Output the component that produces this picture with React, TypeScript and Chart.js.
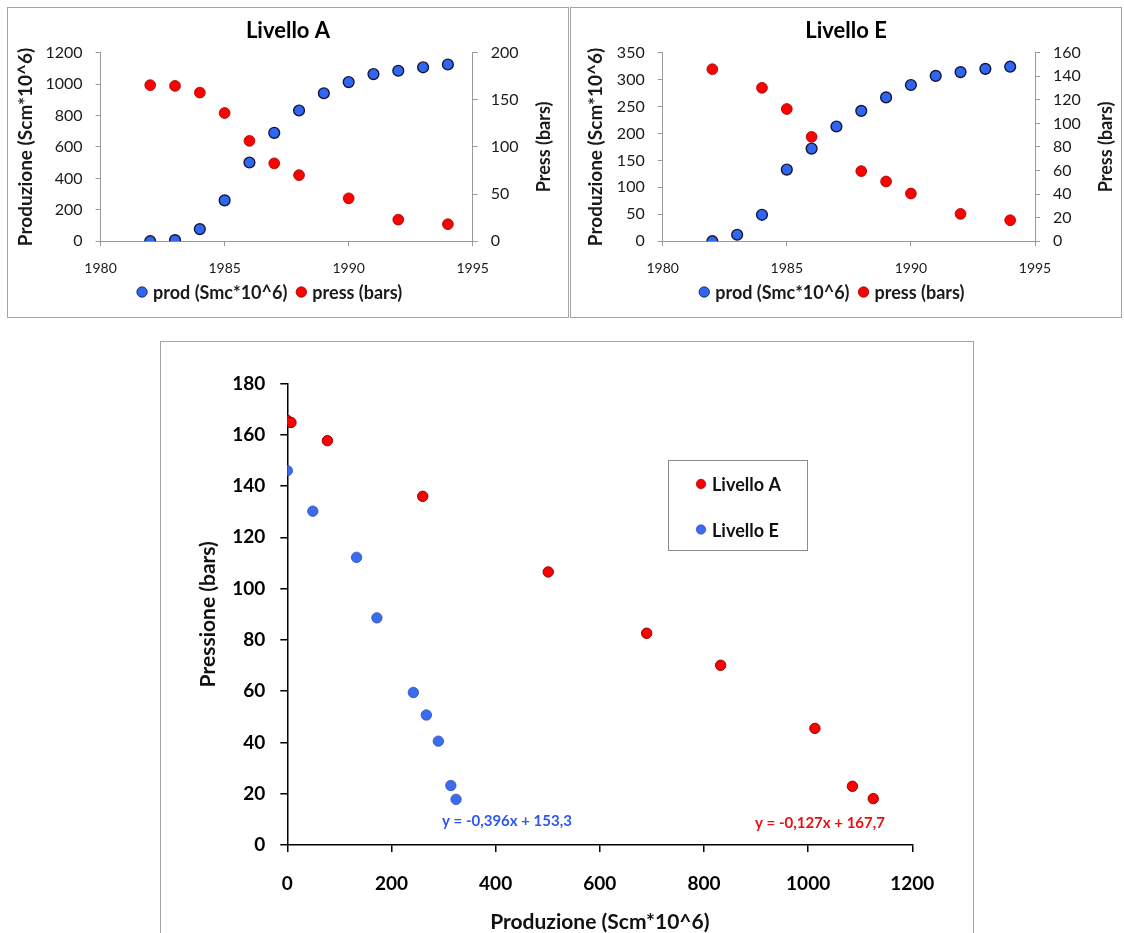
import React, { useEffect, useRef } from "react";
import { Chart, registerables } from "chart.js";

Chart.register(...registerables);

const FONT = "Lato, 'Open Sans', sans-serif";

// ---------- data ----------
const prodYears = [1982, 1983, 1984, 1985, 1986, 1987, 1988, 1989, 1990, 1991, 1992, 1993, 1994];
// Livello A
const prodA = [0, 7, 77, 260, 501, 690, 832, 942, 1013, 1064, 1085, 1107, 1125];
const pressYearsA = [1982, 1983, 1984, 1985, 1986, 1987, 1988, 1990, 1992, 1994];
const pressA = [165.6, 164.8, 157.7, 136.0, 106.5, 82.6, 70.1, 45.5, 22.9, 18.1];
// Livello E
const prodE = [0, 12, 49, 133, 172, 213, 242, 267, 290, 307, 314, 320, 324];
const pressYearsE = [1982, 1984, 1985, 1986, 1988, 1989, 1990, 1992, 1994];
const pressE = [146.0, 130.2, 112.2, 88.6, 59.5, 50.7, 40.5, 23.2, 17.8];

// axes: [min, max, step]
const yearAxis = [1980, 1995, 5];
const prodAxisA = [0, 1200, 200];
const pressAxisA = [0, 200, 50];
const prodAxisE = [0, 350, 50];
const pressAxisE = [0, 160, 20];
const crossProdAxis = [0, 1200, 200];
const crossPressAxis = [0, 180, 20];

const legendLabels = ["prod (Smc*10^6)", "press (bars)"];
const crossLabels = ["Livello A", "Livello E"];
const trendA = "y = -0,127x + 167,7";
const trendE = "y = -0,396x + 153,3";

// ---------- colours ----------
const BLUE = "#2f66f2";
const BLUE_EDGE = "#15163a";
const RED = "#ff0000";
const RED_EDGE = "#9a0000";
const GRAY = "#9a9a9a";
const TXT = "#1a1a1a";

const fmt = (v: any) => String(v);

function topConfig(p: any) {
  const topExtras = {
    id: "topExtras",
    afterDraw(chart: any) {
      const { ctx, chartArea } = chart;
      ctx.save();
      // right axis title (reads bottom-to-top)
      ctx.translate(chartArea.right + 71.5, (chartArea.top + chartArea.bottom) / 2);
      ctx.rotate(-Math.PI / 2);
      ctx.font = `bold 18px ${FONT}`;
      ctx.fillStyle = TXT;
      ctx.textAlign = "center";
      ctx.textBaseline = "middle";
      ctx.fillText("Press (bars)", 0, 0);
      ctx.restore();

      // legend
      ctx.save();
      ctx.font = `bold 18px ${FONT}`;
      const w1 = ctx.measureText(legendLabels[0]).width;
      const w2 = ctx.measureText(legendLabels[1]).width;
      const W = 41 + w1 + w2;
      const cx = (chartArea.left + chartArea.right) / 2 - 17;
      const y = 284;
      const x0 = cx - W / 2;
      const items = [
        { c: x0 + 5, t: x0 + 16, fill: BLUE, edge: BLUE_EDGE, label: legendLabels[0] },
        { c: x0 + 16 + w1 + 14, t: x0 + 16 + w1 + 25, fill: RED, edge: RED_EDGE, label: legendLabels[1] },
      ];
      items.forEach((it) => {
        ctx.beginPath();
        ctx.arc(it.c, y, 5.2, 0, Math.PI * 2);
        ctx.fillStyle = it.fill;
        ctx.fill();
        ctx.lineWidth = 0.8;
        ctx.strokeStyle = it.edge;
        ctx.stroke();
        ctx.fillStyle = TXT;
        ctx.textAlign = "left";
        ctx.textBaseline = "middle";
        ctx.fillText(it.label, it.t, y + 1);
      });
      ctx.restore();
    },
  };

  return {
    type: "scatter",
    data: {
      datasets: [
        {
          label: legendLabels[0],
          data: prodYears.map((yr, i) => ({ x: yr, y: p.prod[i] })),
          yAxisID: "y",
          backgroundColor: BLUE,
          borderColor: BLUE_EDGE,
          borderWidth: 1.4,
          pointRadius: 5.4,
        },
        {
          label: legendLabels[1],
          data: p.pressYears.map((yr: number, i: number) => ({ x: yr, y: p.press[i] })),
          yAxisID: "y2",
          backgroundColor: RED,
          borderColor: RED_EDGE,
          borderWidth: 0.8,
          pointRadius: 5.4,
        },
      ],
    },
    options: {
      animation: false,
      responsive: false,
      events: [],
      layout: { padding: { top: 0, bottom: 40, left: 0, right: 0 } },
      plugins: {
        legend: { display: false },
        tooltip: { enabled: false },
        title: {
          display: true,
          text: p.title,
          color: "#000",
          font: { family: FONT, size: 22, weight: "bold" },
          padding: { top: 9.8, bottom: 8.5 },
        },
      },
      scales: {
        x: {
          type: "linear",
          min: yearAxis[0],
          max: yearAxis[1],
          ticks: { stepSize: yearAxis[2], callback: fmt, color: TXT, font: { family: FONT, size: 14 }, padding: 14 },
          grid: { drawOnChartArea: false, drawTicks: true, tickLength: 5, color: GRAY },
          border: { color: GRAY },
          afterFit: (s: any) => {
            s.height = 35.8;
          },
        },
        y: {
          position: "left",
          min: p.prodAxis[0],
          max: p.prodAxis[1],
          ticks: { stepSize: p.prodAxis[2], callback: fmt, color: TXT, font: { family: FONT, size: 16 }, padding: 13 },
          grid: { drawOnChartArea: false, drawTicks: true, tickLength: 5, color: GRAY },
          border: { color: GRAY },
          title: {
            display: true,
            text: "Produzione (Scm*10^6)",
            color: TXT,
            font: { family: FONT, size: 19, weight: "bold" },
            padding: { top: p.leftTitlePad, bottom: 0 },
          },
          afterFit: (s: any) => {
            s.width = p.leftW;
          },
        },
        y2: {
          position: "right",
          min: p.pressAxis[0],
          max: p.pressAxis[1],
          ticks: { stepSize: p.pressAxis[2], callback: fmt, color: TXT, font: { family: FONT, size: 16 }, padding: 13 },
          grid: { drawOnChartArea: false, drawTicks: true, tickLength: 5, color: GRAY },
          border: { color: GRAY },
          afterFit: (s: any) => {
            s.width = p.rightW;
          },
        },
      },
    },
    plugins: [topExtras],
  };
}

function crossConfig() {
  const crossA = pressYearsA.map((yr, i) => ({ x: prodA[prodYears.indexOf(yr)], y: pressA[i] }));
  const crossE = pressYearsE.map((yr, i) => ({ x: prodE[prodYears.indexOf(yr)], y: pressE[i] }));
  const CB = "#3b6cf0";
  const CB_EDGE = "#2a4db8";
  const CR = "#ff0000";
  const CR_EDGE = "#8a0000";

  const crossExtras = {
    id: "crossExtras",
    afterDraw(chart: any) {
      const { ctx, scales } = chart;
      ctx.save();
      // trend equations
      ctx.font = `bold 15px ${FONT}`;
      ctx.textAlign = "left";
      ctx.textBaseline = "middle";
      ctx.fillStyle = "#3056f0";
      ctx.fillText(trendE, scales.x.getPixelForValue(297), scales.y.getPixelForValue(9.2));
      ctx.fillStyle = "#e81010";
      ctx.fillText(trendA, scales.x.getPixelForValue(898), scales.y.getPixelForValue(8.6));

      // legend box
      ctx.lineWidth = 1;
      ctx.strokeStyle = "#8a8a8a";
      ctx.fillStyle = "#fff";
      ctx.fillRect(507.5, 118.5, 139, 90);
      ctx.strokeRect(507.5, 118.5, 139, 90);
      const rows = [
        { y: 142, ty: 143.5, fill: CR, edge: CR_EDGE, label: crossLabels[0] },
        { y: 187.5, ty: 189.5, fill: CB, edge: CB_EDGE, label: crossLabels[1] },
      ];
      ctx.font = `bold 18px ${FONT}`;
      rows.forEach((r) => {
        ctx.beginPath();
        ctx.arc(540, r.y, 4.7, 0, Math.PI * 2);
        ctx.fillStyle = r.fill;
        ctx.fill();
        ctx.lineWidth = 0.7;
        ctx.strokeStyle = r.edge;
        ctx.stroke();
        ctx.fillStyle = "#111";
        ctx.fillText(r.label, 551, r.ty);
      });
      ctx.restore();
    },
  };

  return {
    type: "scatter",
    data: {
      datasets: [
        {
          label: crossLabels[0],
          data: crossA,
          backgroundColor: CR,
          borderColor: CR_EDGE,
          borderWidth: 1,
          pointRadius: 5.2,
        },
        {
          label: crossLabels[1],
          data: crossE,
          backgroundColor: CB,
          borderColor: CB_EDGE,
          borderWidth: 0.8,
          pointRadius: 5.2,
        },
      ],
    },
    options: {
      animation: false,
      responsive: false,
      events: [],
      layout: { padding: { top: 41.5, right: 60.7, bottom: 0, left: 0 } },
      plugins: { legend: { display: false }, tooltip: { enabled: false }, title: { display: false } },
      scales: {
        x: {
          type: "linear",
          min: crossProdAxis[0],
          max: crossProdAxis[1],
          ticks: {
            stepSize: crossProdAxis[2],
            callback: fmt,
            color: "#000",
            font: { family: FONT, size: 19, weight: "bold" },
            padding: 20,
          },
          grid: { drawOnChartArea: false, drawTicks: true, tickLength: 7, color: "#000", lineWidth: 1.5 },
          border: { color: "#000", width: 1.5 },
          title: {
            display: true,
            text: "Produzione (Scm*10^6)",
            color: "#111",
            font: { family: FONT, size: 21, weight: "bold" },
            padding: { top: 0, bottom: 6.9 },
          },
          afterFit: (s: any) => {
            s.height = 97;
          },
        },
        y: {
          min: crossPressAxis[0],
          max: crossPressAxis[1],
          ticks: {
            stepSize: crossPressAxis[2],
            callback: fmt,
            color: "#000",
            font: { family: FONT, size: 19, weight: "bold" },
            padding: 15,
          },
          grid: { drawOnChartArea: false, drawTicks: true, tickLength: 7, color: "#000", lineWidth: 1.5 },
          border: { color: "#000", width: 1.5 },
          title: {
            display: true,
            text: "Pressione (bars)",
            color: "#111",
            font: { family: FONT, size: 21, weight: "bold" },
            padding: { top: 34.9, bottom: 0 },
          },
          afterFit: (s: any) => {
            s.width = 126.3;
          },
        },
      },
    },
    plugins: [crossExtras],
  };
}

function Box(props: { left: number; top: number; w: number; h: number; canvasRef: any }) {
  const { left, top, w, h, canvasRef } = props;
  return (
    <div
      style={{
        position: "absolute",
        left,
        top,
        width: w,
        height: h,
        border: "1px solid #a3a3a3",
        boxSizing: "border-box",
        background: "#fff",
      }}
    >
      <canvas ref={canvasRef} width={w - 2} height={h - 2} style={{ display: "block", width: w - 2, height: h - 2 }} />
    </div>
  );
}

export default function App() {
  const refA = useRef<HTMLCanvasElement>(null);
  const refE = useRef<HTMLCanvasElement>(null);
  const refX = useRef<HTMLCanvasElement>(null);

  useEffect(() => {
    const charts: Chart[] = [];
    charts.push(
      new Chart(
        refA.current as HTMLCanvasElement,
        topConfig({
          title: "Livello A",
          prod: prodA,
          pressYears: pressYearsA,
          press: pressA,
          prodAxis: prodAxisA,
          pressAxis: pressAxisA,
          leftW: 92.6,
          rightW: 95.3,
          leftTitlePad: 6.1,
        }) as any
      )
    );
    charts.push(
      new Chart(
        refE.current as HTMLCanvasElement,
        topConfig({
          title: "Livello E",
          prod: prodE,
          pressYears: pressYearsE,
          press: pressE,
          prodAxis: prodAxisE,
          pressAxis: pressAxisE,
          leftW: 91.7,
          rightW: 86,
          leftTitlePad: 13.6,
        }) as any
      )
    );
    charts.push(new Chart(refX.current as HTMLCanvasElement, crossConfig() as any));
    let alive = true;
    if ((document as any).fonts && (document as any).fonts.ready) {
      (document as any).fonts.ready.then(() => {
        if (alive) charts.forEach((c) => c.update());
      });
    }
    return () => {
      alive = false;
      charts.forEach((c) => c.destroy());
    };
  }, []);

  return (
    <div
      style={{
        position: "absolute",
        left: 0,
        top: 0,
        width: 1124,
        height: 933,
        overflow: "hidden",
        background: "#fff",
      }}
    >
      <Box left={7} top={7} w={562} h={311} canvasRef={refA} />
      <Box left={570} top={7} w={552} h={311} canvasRef={refE} />
      <Box left={160} top={341} w={814} h={602} canvasRef={refX} />
    </div>
  );
}
